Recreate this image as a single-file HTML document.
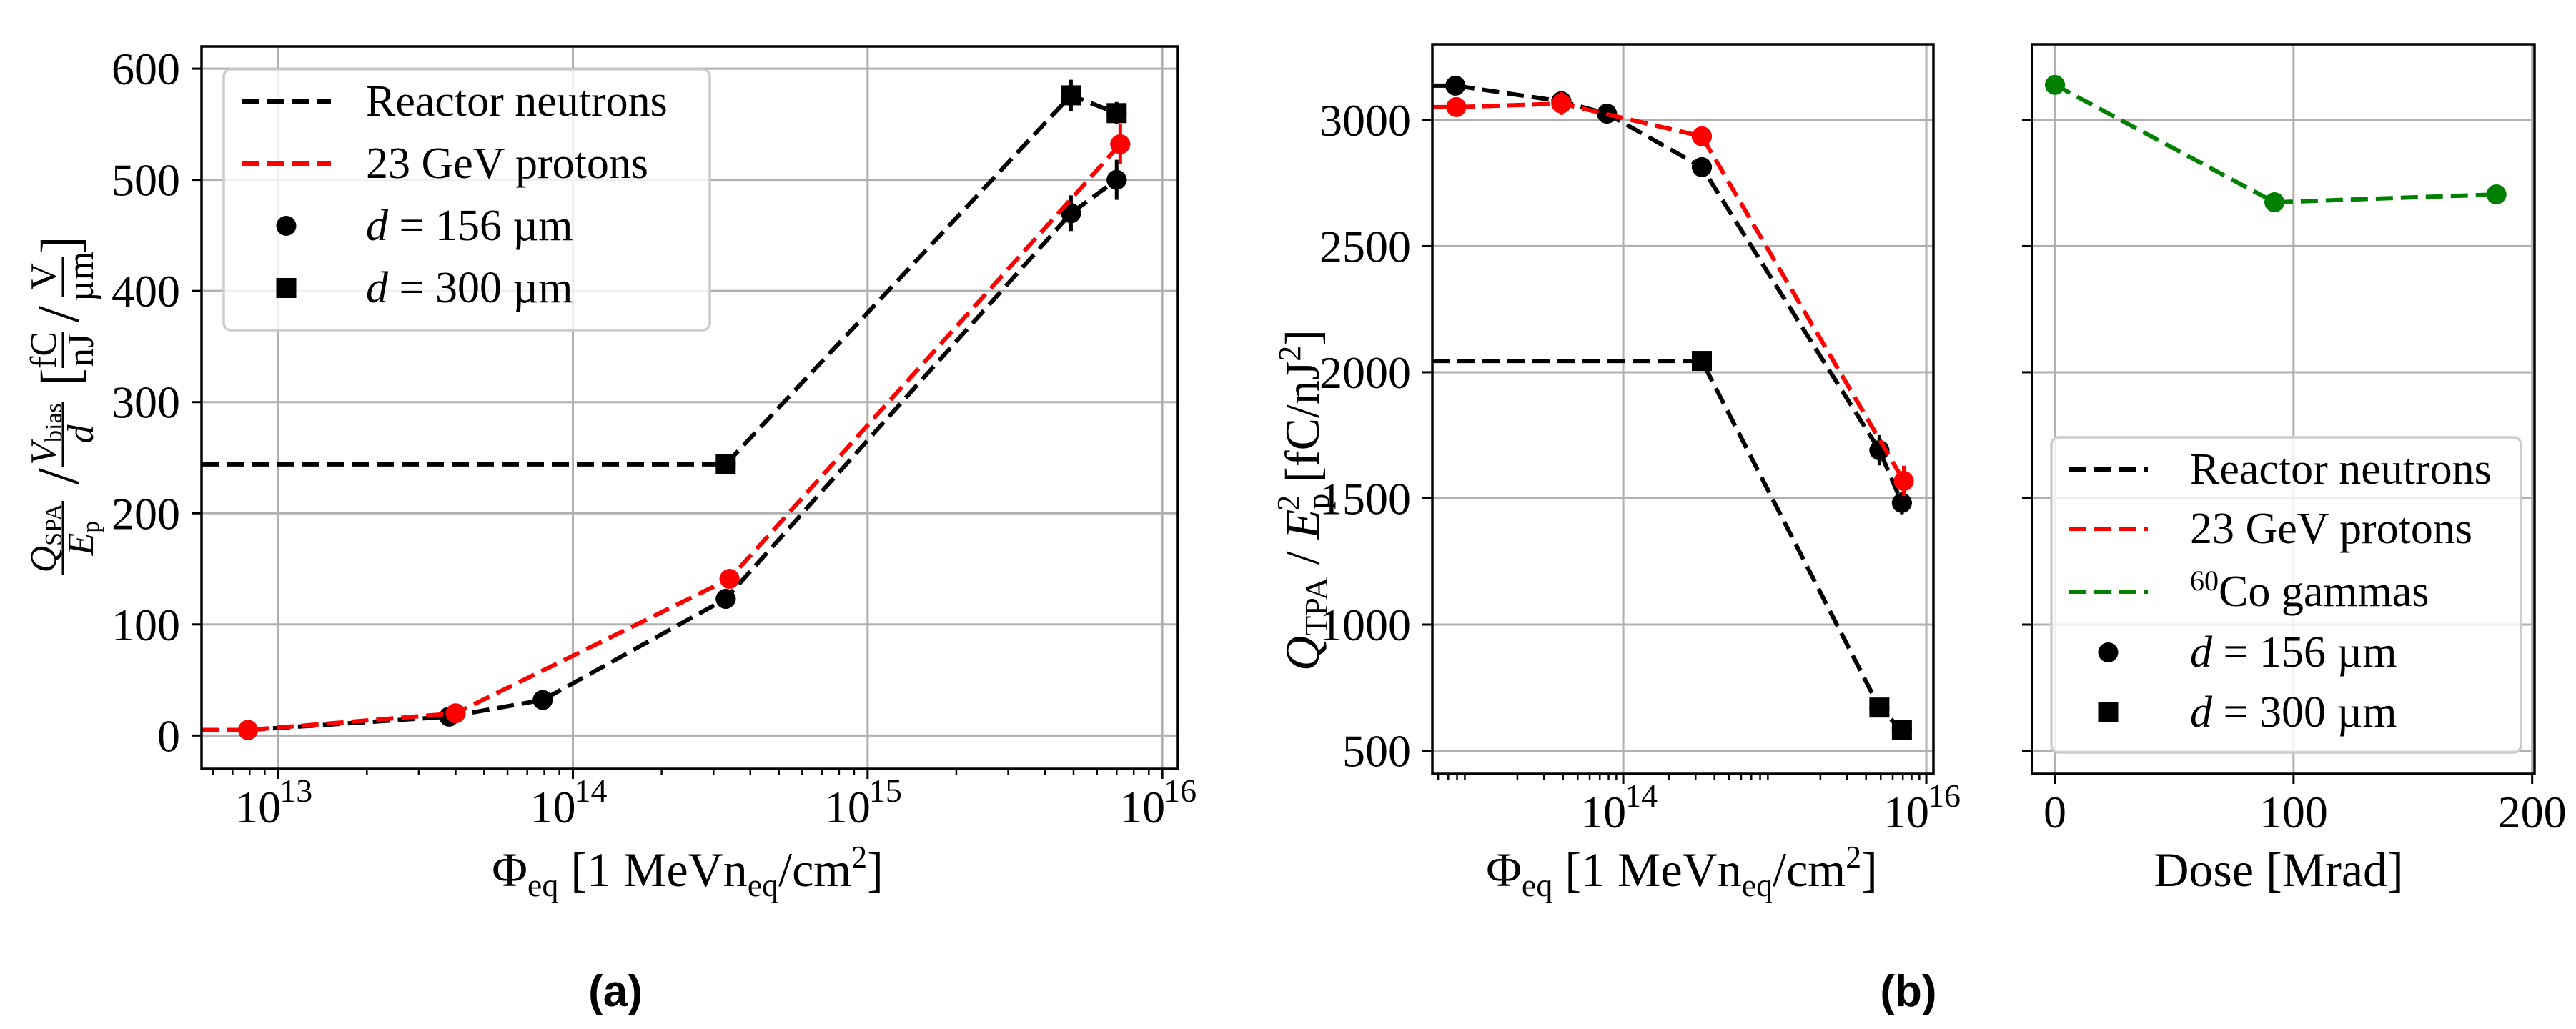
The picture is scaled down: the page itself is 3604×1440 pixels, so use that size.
<!DOCTYPE html>
<html><head><meta charset="utf-8"><style>
html,body{margin:0;padding:0;background:#fff;}
svg{display:block;font-family:"Liberation Serif",serif;}
</style></head><body>
<svg id="fig" width="3604" height="1440" viewBox="0 0 3604 1440" xmlns="http://www.w3.org/2000/svg"></svg>
<script>
// ---------- Panel (a) data ----------
const aReactor156X = [7.9e12, 3.8e13, 7.9e13, 3.3e14, 4.9e15, 7.0e15];
const aReactor156Y = [5, 17, 32, 123, 470, 500];
const aReactor156E = [2, 3, 4, 8, 16, 18];
const aProton156X = [7.9e12, 4.0e13, 3.4e14, 7.2e15];
const aProton156Y = [5, 20, 141, 532];
const aProton156E = [2, 3, 6, 18];
const aReactor300X = [3.3e14, 4.9e15, 7.0e15];
const aReactor300Y = [244, 576, 560];
const aReactor300E = [6, 14, 10];
const aReactor300Unirr = 244;
const aProtonUnirr = 5;
const aYTicks = [0, 100, 200, 300, 400, 500, 600];
const aXTicks = [13, 14, 15, 16];
// ---------- Panel (b) data ----------
const bReactor156X = [7.8e12, 3.9e13, 7.8e13, 3.3e14, 4.9e15, 6.9e15];
const bReactor156Y = [3136, 3074, 3025, 2813, 1691, 1482];
const bReactor156E = [10, 15, 12, 25, 60, 45];
const bProton156X = [7.9e12, 3.9e13, 3.3e14, 7.1e15];
const bProton156Y = [3051, 3065, 2935, 1569];
const bProton156E = [10, 45, 20, 60];
const bReactor300X = [3.3e14, 4.9e15, 6.9e15];
const bReactor300Y = [2045, 671, 581];
const bReactor300E = [10, 10, 10];
const bReactor156Unirr = 3136;
const bProtonUnirr = 3051;
const bReactor300Unirr = 2045;
const bYTicks = [500, 1000, 1500, 2000, 2500, 3000];
const bXTicks = [14, 16];
// ---------- Panel (c) data ----------
const cDose = [0, 92, 185];
const cY = [3139, 2674, 2705];
const cE = [30, 15, 12];
const cXTicks = [0, 100, 200];

const NS = "http://www.w3.org/2000/svg";
const svg = document.getElementById('fig');
function el(tag, attrs, parent, text){
  const e = document.createElementNS(NS, tag);
  for (const k in attrs) e.setAttribute(k, attrs[k]);
  if (text !== undefined) e.textContent = text;
  (parent || svg).appendChild(e);
  return e;
}
const GRID = '#b0b0b0';

const A = {l:282, r:1648, t:65, b:1076, x0:12.74, x1:16.053, y0:-30, y1:620};
const B = {l:2004, r:2705, t:62, b:1083, x0:12.74, x1:16.047, y0:408, y1:3300};
const C = {l:2843, r:3546, t:62, b:1083, x0:-9.6, x1:201, y0:408, y1:3300};
function lx(ax, v){ return ax.l + (Math.log10(v) - ax.x0) / (ax.x1 - ax.x0) * (ax.r - ax.l); }
function lxe(ax, e){ return ax.l + (e - ax.x0) / (ax.x1 - ax.x0) * (ax.r - ax.l); }
function linx(ax, v){ return ax.l + (v - ax.x0) / (ax.x1 - ax.x0) * (ax.r - ax.l); }
function py(ax, v){ return ax.b - (v - ax.y0) / (ax.y1 - ax.y0) * (ax.b - ax.t); }

function clip(ax, id){
  const d = el('defs', {});
  const cp = el('clipPath', {id:id}, d);
  el('rect', {x:ax.l, y:ax.t, width:ax.r-ax.l, height:ax.b-ax.t}, cp);
}
clip(A,'ca'); clip(B,'cb'); clip(C,'cc');

function gridAndTicksLog(ax, xt, yt, name, ylabels){
  const g = el('g', {});
  
  
  xt.forEach(e => { const x = lxe(ax, e); el('line', {x1:x, x2:x, y1:ax.t, y2:ax.b, stroke:GRID, 'stroke-width':3}, g); });
  yt.forEach(v => { const y = py(ax, v); el('line', {x1:ax.l, x2:ax.r, y1:y, y2:y, stroke:GRID, 'stroke-width':3}, g); });
  for (let d = 12; d <= 16; d++) for (let m = 2; m <= 9; m++) {
    const e = d + Math.log10(m);
    if (e < ax.x0 || e > ax.x1) continue;
    const x = lxe(ax, e);
    el('line', {x1:x, x2:x, y1:ax.b, y2:ax.b+8, stroke:'#000', 'stroke-width':2.5}, g);
  }
  xt.forEach(e => {
    const x = lxe(ax, e);
    el('line', {x1:x, x2:x, y1:ax.b, y2:ax.b+14, stroke:'#000', 'stroke-width':3}, g);
    const t = el('text', {x:x+4, y:ax.b+75, 'text-anchor':'end', 'font-size':64}, g, '10');
    
    
    el('text', {x:x+2, y:ax.b+46, 'text-anchor':'start', 'font-size':46}, g, String(e));
  });
  yt.forEach(v => {
    const y = py(ax, v);
    el('line', {x1:ax.l-14, x2:ax.l, y1:y, y2:y, stroke:'#000', 'stroke-width':3}, g);
    if (ylabels) {
      const t = el('text', {x:ax.l-30, y:y+22, 'text-anchor':'end', 'font-size':64}, g, String(v));
      
      
    }
  });
}
gridAndTicksLog(A, aXTicks, aYTicks, 'panel-a', true);
gridAndTicksLog(B, bXTicks, bYTicks, 'panel-b', true);
(function(){
  const g = el('g', {});
  
  
  cXTicks.forEach(v => {
    const x = linx(C, v);
    el('line', {x1:x, x2:x, y1:C.t, y2:C.b, stroke:GRID, 'stroke-width':3}, g);
    el('line', {x1:x, x2:x, y1:C.b, y2:C.b+14, stroke:'#000', 'stroke-width':3}, g);
    const t = el('text', {x:x, y:C.b+75, 'text-anchor':'middle', 'font-size':64}, g, String(v));
    
    
  });
  bYTicks.forEach(v => {
    const y = py(C, v);
    el('line', {x1:C.l, x2:C.r, y1:y, y2:y, stroke:GRID, 'stroke-width':3}, g);
    el('line', {x1:C.l-14, x2:C.l, y1:y, y2:y, stroke:'#000', 'stroke-width':3}, g);
  });
})();

function series(ax, xs, ys, es, color, marker, fx, cid, name, startY){
  const g = el('g', {'clip-path':'url(#'+cid+')'});
  
  
  const pts = xs.map((v,i) => [fx(v), py(ax, ys[i])]);
  if (startY !== undefined) pts.unshift([ax.l, py(ax, startY)]);
  el('polyline', {points:pts.map(p=>p.join(',')).join(' '), fill:'none', stroke:color, 'stroke-width':6, 'stroke-dasharray':'24 11'}, g);
  xs.forEach((v,i) => {
    const x = fx(v), y = py(ax, ys[i]);
    const e = Math.abs(py(ax, ys[i]+es[i]) - y);
    el('line', {x1:x, x2:x, y1:y-e, y2:y+e, stroke:color, 'stroke-width':5}, g);
    el('line', {x1:x-14, x2:x+14, y1:y, y2:y, stroke:color, 'stroke-width':5}, g);
    let m;
    if (marker === 'o') m = el('circle', {cx:x, cy:y, r:14, fill:color}, g);
    else m = el('rect', {x:x-14, y:y-14, width:28, height:28, fill:color}, g);
    
    
  });
}
const fa = v => lx(A, v), fb = v => lx(B, v), fc = v => linx(C, v);
series(A, aReactor300X, aReactor300Y, aReactor300E, '#000', 's', fa, 'ca', 'a-reactor-300um', aReactor300Unirr);
series(A, aReactor156X, aReactor156Y, aReactor156E, '#000', 'o', fa, 'ca', 'a-reactor-156um');
series(A, aProton156X, aProton156Y, aProton156E, '#ff0000', 'o', fa, 'ca', 'a-proton-156um', aProtonUnirr);
series(B, bReactor300X, bReactor300Y, bReactor300E, '#000', 's', fb, 'cb', 'b-reactor-300um', bReactor300Unirr);
series(B, bReactor156X, bReactor156Y, bReactor156E, '#000', 'o', fb, 'cb', 'b-reactor-156um', bReactor156Unirr);
series(B, bProton156X, bProton156Y, bProton156E, '#ff0000', 'o', fb, 'cb', 'b-proton-156um', bProtonUnirr);
series(C, cDose, cY, cE, '#008000', 'o', fc, 'cc', 'c-cobalt-gamma');

[[A,'panel-a-frame'],[B,'panel-b-frame'],[C,'panel-c-frame']].forEach(([ax,n]) => {
  const r = el('rect', {x:ax.l, y:ax.t, width:ax.r-ax.l, height:ax.b-ax.t, fill:'none', stroke:'#000', 'stroke-width':3.5});
  
  
});

function legend(box, rows, name){
  const g = el('g', {});
  
  
  el('rect', {x:box.x, y:box.y, width:box.w, height:box.h, rx:10, fill:'#fff', 'fill-opacity':0.8, stroke:'#cccccc', 'stroke-width':3.5}, g);
  rows.forEach((r,i) => {
    const y = box.rows[i];
    const lg = el('g', {}, g);
    
    
    if (r.type === 'line') el('line', {x1:box.lx0, x2:box.lx1, y1:y, y2:y, stroke:r.color, 'stroke-width':6, 'stroke-dasharray':'24 11'}, lg);
    else if (r.type === 'o') el('circle', {cx:(box.lx0+box.lx1)/2, cy:y, r:14, fill:'#000'}, lg);
    else el('rect', {x:(box.lx0+box.lx1)/2-14, y:y-14, width:28, height:28, fill:'#000'}, lg);
    const t = el('text', {x:box.tx, y:y+20, 'font-size':62}, lg);
    t.innerHTML = r.html;
  });
}
const legRowsA = [
  {type:'line', color:'#000', html:'Reactor neutrons'},
  {type:'line', color:'#ff0000', html:'23 GeV protons'},
  {type:'o', html:'<tspan font-style="italic">d</tspan> = 156 µm'},
  {type:'s', html:'<tspan font-style="italic">d</tspan> = 300 µm'}];
legend({x:313, y:97, w:680, h:365, rows:[142,229,316,403], lx0:338, lx1:463, tx:512}, legRowsA, 'legend-a');
const legRowsC = [
  {type:'line', color:'#000', html:'Reactor neutrons'},
  {type:'line', color:'#ff0000', html:'23 GeV protons'},
  {type:'line', color:'#008000', html:'<tspan font-size="40" dy="-22">60</tspan><tspan dy="22">Co gammas</tspan>'},
  {type:'o', html:'<tspan font-style="italic">d</tspan> = 156 µm'},
  {type:'s', html:'<tspan font-style="italic">d</tspan> = 300 µm'}];
legend({x:2870, y:612, w:657, h:441, rows:[657,740,828,913,997], lx0:2894, lx1:3005, tx:3064}, legRowsC, 'legend-c');

function xlabel(cx, y, name){
  const t = el('text', {x:cx, y:y, 'text-anchor':'middle', 'font-size':68});
  
  
  t.innerHTML = 'Φ<tspan font-size="46" dy="14">eq</tspan><tspan dy="-14"> [1 MeVn</tspan><tspan font-size="46" dy="14">eq</tspan><tspan dy="-14">/cm</tspan><tspan font-size="44" dy="-26">2</tspan><tspan dy="26">]</tspan>';
}
xlabel(962, 1240, 'x-axis-title-a');
xlabel(2353, 1240, 'x-axis-title-b');
(function(){
  const t = el('text', {x:3188, y:1240, 'text-anchor':'middle', 'font-size':68}, svg, 'Dose [Mrad]');
  
  
})();
(function(){
  const t = el('text', {x:0, y:0, 'text-anchor':'middle', 'font-size':68, transform:'translate(1845,700) rotate(-90)'});
  
  
  t.innerHTML = '<tspan font-style="italic">Q</tspan><tspan font-size="46" dy="12">TPA</tspan><tspan dy="-12"> / </tspan><tspan font-style="italic">E</tspan><tspan font-size="44" dy="14">p</tspan><tspan font-size="44" dx="-24" dy="-42">2</tspan><tspan dy="28"> [fC/nJ</tspan><tspan font-size="44" dy="-26">2</tspan><tspan dy="26">]</tspan>';
})();
(function(){
  const g = el('g', {transform:'translate(88,573) rotate(-90)'});
  
  
  function frac(x0, x1, num, den){
    const c = (x0+x1)/2;
    el('line', {x1:x0, x2:x1, y1:0, y2:0, stroke:'#000', 'stroke-width':3}, g);
    const n = el('text', {x:c, y:-10, 'text-anchor':'middle', 'font-size':52}, g); n.innerHTML = num;
    const d = el('text', {x:c, y:42, 'text-anchor':'middle', 'font-size':52}, g); d.innerHTML = den;
  }
  frac(-232, -128, '<tspan font-style="italic">Q</tspan><tspan font-size="34" dy="8">SPA</tspan>', '<tspan font-style="italic">E</tspan><tspan font-size="34" dy="8">p</tspan>');
  el('text', {x:-94, y:22, 'text-anchor':'middle', 'font-size':84}, g, '/');
  frac(-80, 11, '<tspan font-style="italic">V</tspan><tspan font-size="34" dy="8">bias</tspan>', '<tspan font-style="italic">d</tspan>');
  el('text', {x:45, y:22, 'text-anchor':'middle', 'font-size':76}, g, '[');
  frac(58, 108, 'fC', 'nJ');
  el('text', {x:133, y:22, 'text-anchor':'middle', 'font-size':84}, g, '/');
  frac(158, 214, 'V', 'µm');
  el('text', {x:230, y:22, 'text-anchor':'middle', 'font-size':76}, g, ']');
})();
[['(a)', 861, 'caption-a'], ['(b)', 2670, 'caption-b']].forEach(([s,x,n]) => {
  const t = el('text', {x:x, y:1408, 'text-anchor':'middle', 'font-size':62, 'font-weight':'bold', 'font-family':'Liberation Sans, sans-serif'}, svg, s);
  
  
});
</script>
</body></html>
